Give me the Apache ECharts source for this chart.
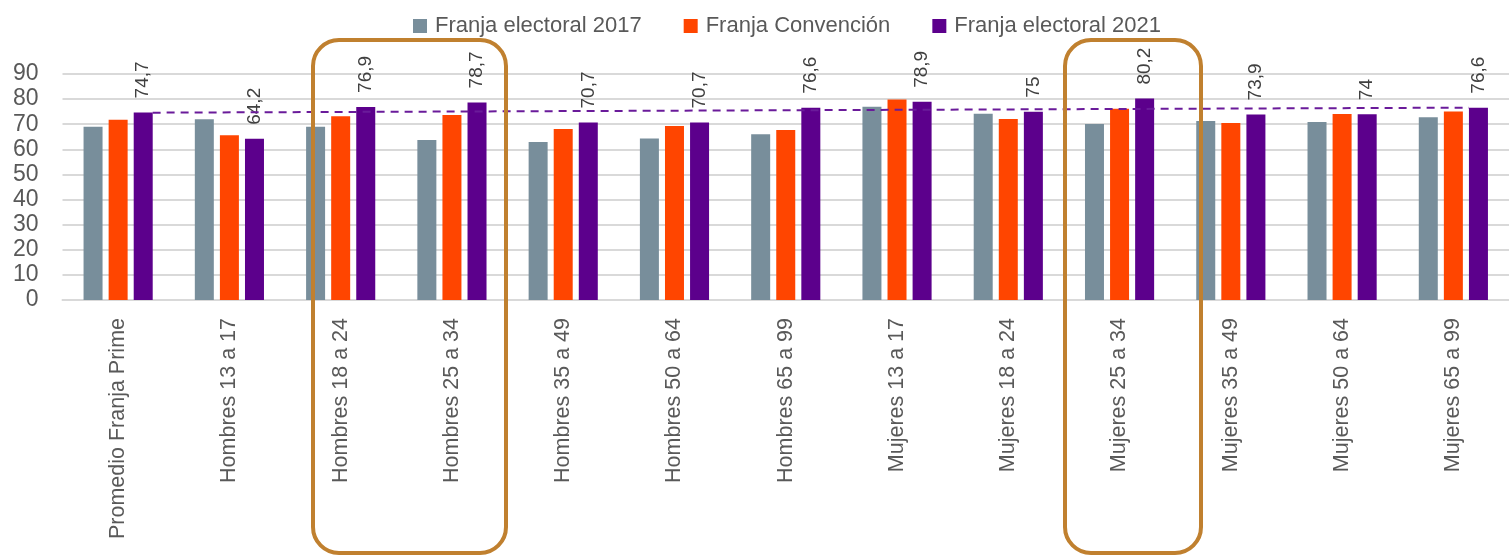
<!DOCTYPE html>
<html>
<head>
<meta charset="utf-8">
<script src="https://cdn.jsdelivr.net/npm/echarts@6/dist/echarts.min.js"></script>
<style>
    html, body { margin: 0; padding: 0; background: #fff; }
    #main { width: 1509px; height: 559px; }
</style>
</head>
<body>
<div id="main"></div>
<script>
var categories = ["Promedio Franja Prime", "Hombres 13 a 17", "Hombres 18 a 24", "Hombres 25 a 34",
    "Hombres 35 a 49", "Hombres 50 a 64", "Hombres 65 a 99", "Mujeres 13 a 17", "Mujeres 18 a 24",
    "Mujeres 25 a 34", "Mujeres 35 a 49", "Mujeres 50 a 64", "Mujeres 65 a 99"];
var franja2017 = [69, 72, 69, 63.7, 62.9, 64.3, 66, 77, 74.2, 70.1, 71.3, 70.9, 72.8];
var franjaConvencion = [71.8, 65.6, 73.2, 73.7, 68.1, 69.3, 67.7, 79.8, 72.1, 76.2, 70.5, 74.1, 75.1];
var franja2021 = [74.7, 64.2, 76.9, 78.7, 70.7, 70.7, 76.6, 78.9, 75, 80.2, 73.9, 74, 76.6];
var yTicks = [0, 10, 20, 30, 40, 50, 60, 70, 80, 90];
// dashed reference line: position along the category band (0..13) and value
var trendPos = [0.81, 12.64];
var trendVals = [74.6, 76.6];

var font = '"Liberation Sans", Arial, sans-serif';

var chart = echarts.init(document.getElementById('main'));

var option = {
    animation: false,
    color: ['#788E9B', '#FF4500', '#5C008C'],
    legend: {
        top: 10,
        left: 408,
        itemWidth: 14,
        itemHeight: 14,
        itemGap: 42,
        icon: 'rect',
        textStyle: { fontFamily: font, fontSize: 22, color: '#595959', padding: [0, 0, 0, 3] },
        data: ['Franja electoral 2017', 'Franja Convención', 'Franja electoral 2021']
    },
    grid: { left: 62.5, right: -8, top: 74, bottom: 259, containLabel: false },
    xAxis: [{
        type: 'category',
        data: categories,
        axisTick: { show: false },
        axisLine: { lineStyle: { color: '#D9D9D9', width: 2 } },
        axisLabel: {
            interval: 0, rotate: 90, margin: 18,
            fontFamily: font, fontSize: 21.5, color: '#595959'
        }
    }, {
        type: 'value', min: 0, max: 13, show: false
    }],
    yAxis: {
        type: 'value',
        min: yTicks[0],
        max: yTicks[yTicks.length - 1],
        interval: 10,
        axisLine: { show: false },
        axisTick: { show: false },
        splitLine: { lineStyle: { color: '#D9D9D9', width: 2 } },
        axisLabel: { margin: 24, fontFamily: font, fontSize: 23, color: '#595959' }
    },
    series: [{
        name: 'Franja electoral 2017', type: 'bar', data: franja2017,
        barWidth: 19, barGap: '32%', barCategoryGap: '38%'
    }, {
        name: 'Franja Convención', type: 'bar', data: franjaConvencion,
        barWidth: 19, barGap: '32%'
    }, {
        name: 'Franja electoral 2021', type: 'bar', data: franja2021,
        barWidth: 19, barGap: '32%',
        label: {
            show: true, position: 'top', distance: 14, rotate: 90,
            align: 'left', verticalAlign: 'middle',
            fontFamily: font, fontSize: 19, color: '#404040',
            formatter: function (p) { return String(p.value).replace('.', ','); }
        }
    }, {
        name: 'trend', type: 'line', xAxisIndex: 1,
        data: [[trendPos[0], trendVals[0]], [trendPos[1], trendVals[1]]],
        symbol: 'none', silent: true, z: 5,
        lineStyle: { color: '#6A1B9A', width: 2, type: [8, 6] }
    }],
    graphic: [{
        type: 'rect', shape: { x: 313, y: 40, width: 193, height: 513, r: 26 },
        style: { fill: 'none', stroke: '#C0802F', lineWidth: 4 }, z: 100
    }, {
        type: 'rect', shape: { x: 1065, y: 40, width: 136, height: 513, r: 26 },
        style: { fill: 'none', stroke: '#C0802F', lineWidth: 4 }, z: 100
    }]
};

chart.setOption(option);
</script>
</body>
</html>
